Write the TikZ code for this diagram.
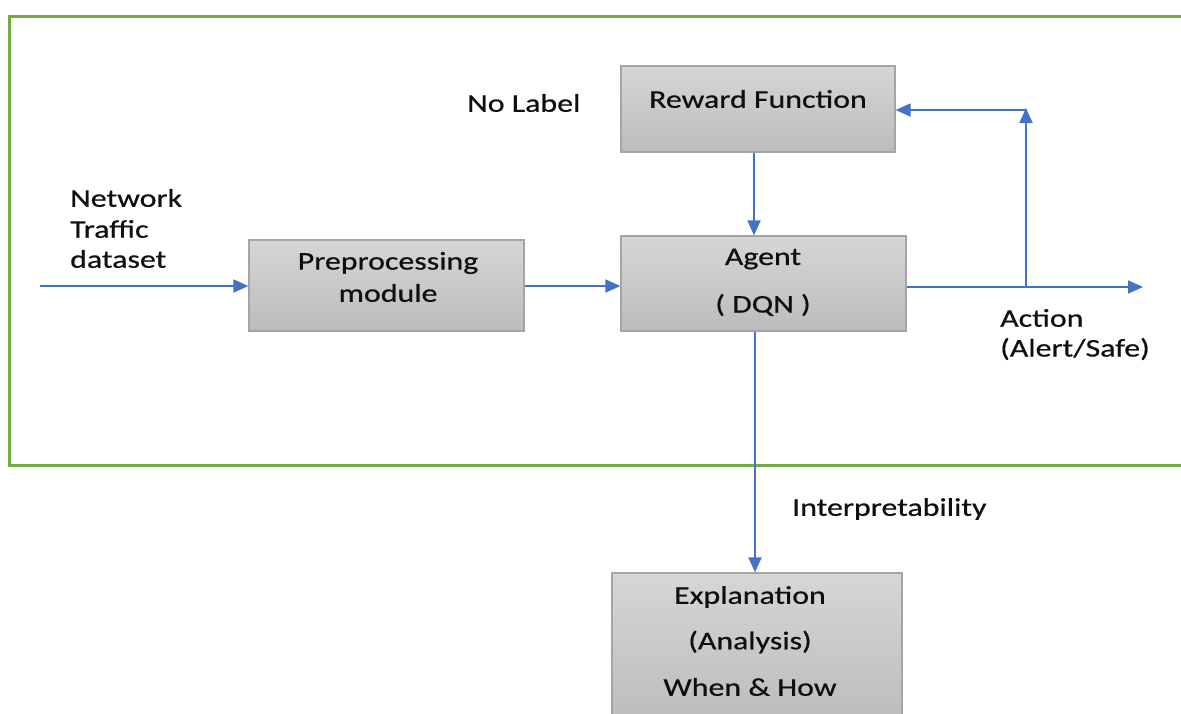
\documentclass[tikz,border=0pt]{standalone}
\usepackage{fontspec}
\setmainfont[FakeStretch=1.25,FakeBold=0.6]{Carlito}
\usetikzlibrary{arrows.meta,calc}
\definecolor{arrowblue}{RGB}{68,114,196}
\definecolor{framegreen}{RGB}{112,173,71}
\definecolor{boxtop}{RGB}{214,214,214}
\definecolor{boxbot}{RGB}{188,188,188}
\definecolor{boxline}{RGB}{165,165,165}
\definecolor{txt}{RGB}{15,15,15}
\begin{document}
\begin{tikzpicture}[x=1pt,y=-1pt,
  blk/.style={draw=boxline,line width=1.2pt,top color=boxtop,bottom color=boxbot,inner sep=0pt},
  lbl/.style={inner sep=0pt,text=txt,font=\fontsize{25.5}{31}\selectfont},
  conn/.style={draw=arrowblue,line width=1.8pt},
  arr/.style={conn,-{Triangle[length=15pt,width=13pt]}}
]
\useasboundingbox (0,0) rectangle (1181,713);
% frame
\draw[framegreen,line width=3pt] (1200,16) -- (9,16) -- (9,465) -- (1200,465);

% boxes
\node[blk,minimum width=274pt,minimum height=86pt] (rew) at (758,109) {};
\node[blk,minimum width=285pt,minimum height=95pt] (agent) at (763.5,283.5) {};
\node[blk,minimum width=275pt,minimum height=91pt] (pre) at (386.5,285.5) {};
\node[blk,minimum width=290pt,minimum height=150pt] (expl) at (757,648) {};

% box texts
\node[lbl] (rewt) at (758,99) {Reward Function};
\node[lbl] (agentt) at (763,259) {Agent};
\node[lbl] (dqnt) at (763,305) {( DQN )};
\node[lbl] (pret) at (388,263) {Preprocessing};
\node[lbl] (modt) at (388,293) {module};
\node[lbl] (expt) at (750,597) {Explanation};
\node[lbl] (anat) at (750,642) {(Analysis)};
\node[lbl] (whent) at (750,687) {When \& How};

% free labels
\node[lbl,anchor=west] (nolab) at (467,103) {No Label};
\node[lbl,anchor=west] (net1) at (70,198) {Network};
\node[lbl,anchor=west] (net2) at (70,229) {Traffic};
\node[lbl,anchor=west] (net3) at (70,259) {dataset};
\node[lbl,anchor=west] (act1) at (1000,318) {Action};
\node[lbl,anchor=west] (act2) at (1000,349) {(Alert/Safe)};
\node[lbl,anchor=west] (interp) at (792,509) {Interpretability};

% coordinates
\coordinate (in) at (40,286);
\coordinate (out) at (1143,287);
\coordinate (br) at (1026,287);
\coordinate (brtop) at (1026,108);
\coordinate (fb) at (1026,110);

% connectors
\draw[arr] (in) -- (pre.west |- in);
\draw[arr] (pre.east |- in) -- (agent.west |- in);
\draw[arr] (rew.south -| 754,0) -- (agent.north -| 754,0);
\draw[arr] (agent.east |- out) -- (out);
\draw[arr] (br) -- (brtop);
\draw[arr] (fb) -- (rew.east |- fb);
\draw[arr] (agent.south -| 755,0) -- (expl.north -| 755,0);
\end{tikzpicture}
\end{document}
